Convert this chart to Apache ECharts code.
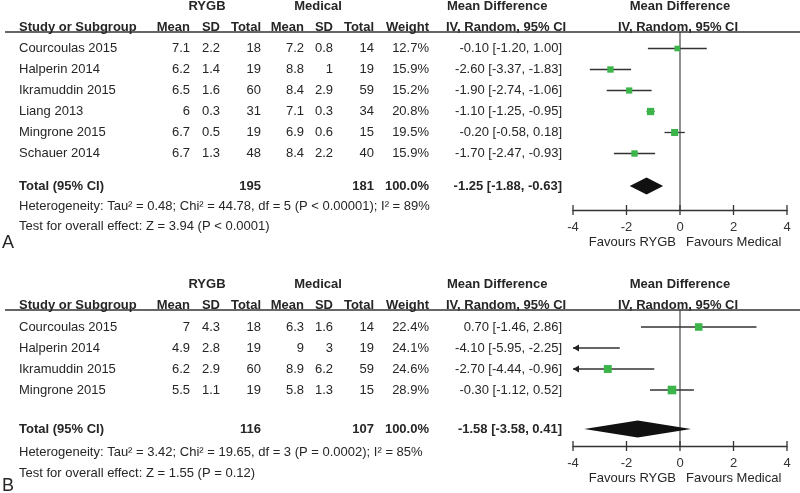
<!DOCTYPE html>
<html><head><meta charset="utf-8">
<script src="https://cdn.jsdelivr.net/npm/echarts@6/dist/echarts.min.js"></script>
<style>html,body{margin:0;padding:0;background:#fff}#c{width:800px;height:493px}</style>
</head><body><div id="c"></div><script>
// ---------- Data: panel A ----------
const studiesA = ['Courcoulas 2015','Halperin 2014','Ikramuddin 2015','Liang 2013','Mingrone 2015','Schauer 2014'];
const rygbMeanA = [7.1, 6.2, 6.5, 6, 6.7, 6.7];
const rygbSdA = [2.2, 1.4, 1.6, 0.3, 0.5, 1.3];
const rygbTotalA = [18, 19, 60, 31, 19, 48];
const medMeanA = [7.2, 8.8, 8.4, 7.1, 6.9, 8.4];
const medSdA = [0.8, 1, 2.9, 0.3, 0.6, 2.2];
const medTotalA = [14, 19, 59, 34, 15, 40];
const weightA = [12.7, 15.9, 15.2, 20.8, 19.5, 15.9];
const mdA = [-0.10, -2.60, -1.90, -1.10, -0.20, -1.70];
const loA = [-1.20, -3.37, -2.74, -1.25, -0.58, -2.47];
const hiA = [1.00, -1.83, -1.06, -0.95, 0.18, -0.93];
const totalA = {rygb: 195, med: 181, weight: '100.0%', md: -1.25, lo: -1.88, hi: -0.63};
const hetA = 'Heterogeneity: Tau² = 0.48; Chi² = 44.78, df = 5 (P < 0.00001); I² = 89%';
const testA = 'Test for overall effect: Z = 3.94 (P < 0.0001)';

// ---------- Data: panel B ----------
const studiesB = ['Courcoulas 2015','Halperin 2014','Ikramuddin 2015','Mingrone 2015'];
const rygbMeanB = [7, 4.9, 6.2, 5.5];
const rygbSdB = [4.3, 2.8, 2.9, 1.1];
const rygbTotalB = [18, 19, 60, 19];
const medMeanB = [6.3, 9, 8.9, 5.8];
const medSdB = [1.6, 3, 6.2, 1.3];
const medTotalB = [14, 19, 59, 15];
const weightB = [22.4, 24.1, 24.6, 28.9];
const mdB = [0.70, -4.10, -2.70, -0.30];
const loB = [-1.46, -5.95, -4.44, -1.12];
const hiB = [2.86, -2.25, -0.96, 0.52];
const totalB = {rygb: 116, med: 107, weight: '100.0%', md: -1.58, lo: -3.58, hi: 0.41};
const hetB = 'Heterogeneity: Tau² = 3.42; Chi² = 19.65, df = 3 (P = 0.0002); I² = 85%';
const testB = 'Test for overall effect: Z = 1.55 (P = 0.12)';

const ticks = [-4, -2, 0, 2, 4];
const xMin = -4, xMax = 4;

// ---------- Layout ----------
const FONT = '"Liberation Sans", Arial, Helvetica, sans-serif';
const TXT = '#262626';
const GREEN = '#3bb54a';
const ROWH = 21;
const PLOT_L = 573, PLOT_W = 214;
const COL = {mean1: 190, sd1: 220, tot1: 261, mean2: 304, sd2: 333, tot2: 374, weight: 429, ci: 562};

const panels = [
  {letter: 'A', head1: 6, head2: 27, lineY: 32, row0: 48.5, totalY: 186, hetY: 206, testY: 226, axisY: 210, letterY: 243,
   studies: studiesA, m1: rygbMeanA, s1: rygbSdA, n1: rygbTotalA, m2: medMeanA, s2: medSdA, n2: medTotalA,
   w: weightA, md: mdA, lo: loA, hi: hiA, total: totalA, het: hetA, test: testA},
  {letter: 'B', head1: 284, head2: 305, lineY: 310, row0: 327, totalY: 429, hetY: 452, testY: 473, axisY: 446, letterY: 486,
   studies: studiesB, m1: rygbMeanB, s1: rygbSdB, n1: rygbTotalB, m2: medMeanB, s2: medSdB, n2: medTotalB,
   w: weightB, md: mdB, lo: loB, hi: hiB, total: totalB, het: hetB, test: testB}
];

function txt(s, x, y, align, bold, size) {
  return {type: 'text', silent: true, z: 10,
    style: {text: String(s), x: x, y: y, align: align, textAlign: align, verticalAlign: 'middle', textVerticalAlign: 'middle',
      fontSize: size || 13, fontFamily: FONT, fontWeight: bold ? 'bold' : 'normal', fill: TXT}};
}
const ci = (m, l, h) => m.toFixed(2) + ' [' + l.toFixed(2) + ', ' + h.toFixed(2) + ']';

const option = {animation: false, backgroundColor: '#fff', grid: [], xAxis: [], yAxis: [], series: [], graphic: []};

panels.forEach((P, k) => {
  const yMin = (P.lineY - P.row0) / ROWH;
  const yMax = (P.axisY - P.row0) / ROWH;
  const totV = (P.totalY - P.row0) / ROWH;
  option.grid.push({left: PLOT_L, width: PLOT_W, top: P.lineY, height: P.axisY - P.lineY});
  option.xAxis.push({type: 'value', gridIndex: k, min: xMin, max: xMax, interval: 2,
    axisLine: {show: true, onZero: false, lineStyle: {color: '#333', width: 1.3}},
    axisTick: {show: false}, splitLine: {show: false},
    axisLabel: {fontSize: 13, color: '#333', margin: 11, fontFamily: FONT}});
  option.yAxis.push({type: 'value', gridIndex: k, inverse: true, min: yMin, max: yMax, show: false});

  // zero line
  option.series.push({type: 'line', xAxisIndex: k, yAxisIndex: k, data: [[0, yMin], [0, yMax]], symbol: 'none', silent: true, z: 1,
    lineStyle: {color: '#555', width: 1.3}});
  // ticks crossing the axis
  option.series.push({type: 'custom', xAxisIndex: k, yAxisIndex: k, silent: true, clip: false, z: 2,
    data: ticks.map(t => [t, yMax]), encode: {x: 0, y: 1},
    renderItem: (params, api) => {
      const p = api.coord([api.value(0), api.value(1)]);
      return {type: 'line', shape: {x1: p[0], y1: p[1] - 5, x2: p[0], y2: p[1] + 5}, style: {stroke: '#333', lineWidth: 1.3}};
    }});
  // study CIs and squares
  option.series.push({type: 'custom', xAxisIndex: k, yAxisIndex: k, silent: true, clip: false, z: 3,
    data: P.md.map((m, i) => [m, i, P.lo[i], P.hi[i], P.w[i]]), encode: {x: 0, y: 1},
    renderItem: (params, api) => {
      const cs = params.coordSys, x0 = cs.x, x1 = cs.x + cs.width;
      const i = api.value(1);
      const pm = api.coord([api.value(0), i]);
      const pl = api.coord([api.value(2), i]);
      const ph = api.coord([api.value(3), i]);
      const y = pm[1];
      const a = Math.max(pl[0], x0), b = Math.min(ph[0], x1);
      const ch = [{type: 'line', shape: {x1: a, y1: y, x2: b, y2: y}, style: {stroke: '#333', lineWidth: 1.3}}];
      if (pl[0] < x0) ch.push({type: 'polygon', shape: {points: [[x0, y], [x0 + 6, y - 3.5], [x0 + 6, y + 3.5]]}, style: {fill: '#222'}});
      if (ph[0] > x1) ch.push({type: 'polygon', shape: {points: [[x1, y], [x1 - 6, y - 3.5], [x1 - 6, y + 3.5]]}, style: {fill: '#222'}});
      if (pm[0] >= x0 && pm[0] <= x1) {
        const s = Math.sqrt(api.value(4)) * 1.6;
        ch.push({type: 'rect', shape: {x: pm[0] - s / 2, y: y - s / 2, width: s, height: s}, style: {fill: GREEN}});
      }
      return {type: 'group', children: ch};
    }});
  // diamond
  option.series.push({type: 'custom', xAxisIndex: k, yAxisIndex: k, silent: true, clip: false, z: 3,
    data: [[P.total.md, totV, P.total.lo, P.total.hi]], encode: {x: 0, y: 1},
    renderItem: (params, api) => {
      const v = api.value(1);
      const pm = api.coord([api.value(0), v]);
      const pl = api.coord([api.value(2), v]);
      const ph = api.coord([api.value(3), v]);
      const h = 8.5;
      return {type: 'polygon', shape: {points: [[pl[0], pm[1]], [pm[0], pm[1] - h], [ph[0], pm[1]], [pm[0], pm[1] + h]]},
        style: {fill: '#111'}};
    }});

  // ---------- table text ----------
  const G = option.graphic;
  G.push(txt('RYGB', 207, P.head1, 'center', true));
  G.push(txt('Medical', 318, P.head1, 'center', true));
  G.push(txt('Mean Difference', 447, P.head1, 'left', true));
  G.push(txt('Mean Difference', 680, P.head1, 'center', true));
  G.push(txt('Study or Subgroup', 19, P.head2, 'left', true));
  G.push(txt('Mean', COL.mean1, P.head2, 'right', true));
  G.push(txt('SD', COL.sd1, P.head2, 'right', true));
  G.push(txt('Total', COL.tot1, P.head2, 'right', true));
  G.push(txt('Mean', COL.mean2, P.head2, 'right', true));
  G.push(txt('SD', COL.sd2, P.head2, 'right', true));
  G.push(txt('Total', COL.tot2, P.head2, 'right', true));
  G.push(txt('Weight', COL.weight, P.head2, 'right', true));
  G.push(txt('IV, Random, 95% CI', 446, P.head2, 'left', true));
  G.push(txt('IV, Random, 95% CI', 678, P.head2, 'center', true));
  G.push({type: 'line', silent: true, z: 9, shape: {x1: 5, y1: P.lineY, x2: 800, y2: P.lineY}, style: {stroke: '#333', lineWidth: 1.5}});

  P.studies.forEach((s, i) => {
    const y = P.row0 + i * ROWH;
    G.push(txt(s, 19, y, 'left'));
    G.push(txt(P.m1[i], COL.mean1, y, 'right'));
    G.push(txt(P.s1[i], COL.sd1, y, 'right'));
    G.push(txt(P.n1[i], COL.tot1, y, 'right'));
    G.push(txt(P.m2[i], COL.mean2, y, 'right'));
    G.push(txt(P.s2[i], COL.sd2, y, 'right'));
    G.push(txt(P.n2[i], COL.tot2, y, 'right'));
    G.push(txt(P.w[i].toFixed(1) + '%', COL.weight, y, 'right'));
    G.push(txt(ci(P.md[i], P.lo[i], P.hi[i]), COL.ci, y, 'right'));
  });
  G.push(txt('Total (95% CI)', 19, P.totalY, 'left', true));
  G.push(txt(P.total.rygb, COL.tot1, P.totalY, 'right', true));
  G.push(txt(P.total.med, COL.tot2, P.totalY, 'right', true));
  G.push(txt(P.total.weight, COL.weight, P.totalY, 'right', true));
  G.push(txt(ci(P.total.md, P.total.lo, P.total.hi), COL.ci, P.totalY, 'right', true));
  G.push(txt(P.het, 19, P.hetY, 'left'));
  G.push(txt(P.test, 19, P.testY, 'left'));
  G.push(txt('Favours RYGB', 676, P.axisY + 32, 'right'));
  G.push(txt('Favours Medical', 686, P.axisY + 32, 'left'));
  G.push(txt(P.letter, 2, P.letterY, 'left', false, 18));
});

const chart = echarts.init(document.getElementById('c'), null, {renderer: 'canvas'});
chart.setOption(option);
</script></body></html>
